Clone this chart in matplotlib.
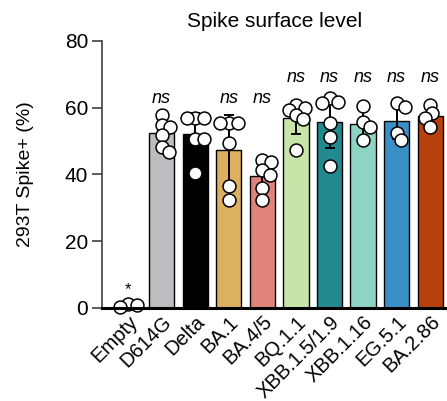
import numpy as np
import matplotlib
matplotlib.use("Agg")
import matplotlib.pyplot as plt

plt.rcParams['font.family'] = ['Liberation Sans', 'DejaVu Sans']

# data
variants = ['Empty', 'D614G', 'Delta', 'BA.1', 'BA.4/5', 'BQ.1.1',
            'XBB.1.5/1.9', 'XBB.1.16', 'EG.5.1', 'BA.2.86']
points = [
    [1.3, 0.8, 0.4],
    [57.8, 54.8, 54.3, 51.8, 48.3, 46.8],
    [56.8, 56.8, 56.8, 50.5, 50.5, 40.5],
    [55.3, 55.3, 55.3, 49.5, 36.5, 32.3],
    [44.3, 43.8, 41.3, 39.8, 35.8, 32.3],
    [60.8, 60.0, 59.3, 57.8, 56.5, 47.3],
    [62.8, 61.8, 61.3, 55.3, 51.3, 42.5],
    [60.5, 55.8, 54.3, 50.3],
    [61.3, 60.3, 52.5, 50.3],
    [60.8, 58.3, 56.8, 54.3],
]
colors = ['#ffffff', '#bdbdbf', '#000000', '#ddb061', '#e0837a', '#c9e4a8',
          '#22898f', '#8dd4c4', '#3a8fc6', '#b8400c']
signif = ['*', 'ns', '', 'ns', 'ns', 'ns', 'ns', 'ns', 'ns', 'ns']

means = [np.mean(p) for p in points]
sds = [np.std(p, ddof=1) for p in points]

fig = plt.figure(figsize=(4.47, 4.01), dpi=100)
ax = fig.add_axes([0.228, 0.232, 0.772, 0.666])

x = np.arange(len(variants))
ax.bar(x, means, width=0.75, color=colors, edgecolor='black', linewidth=1.0, zorder=2)
ax.errorbar(x, means, yerr=sds, fmt='none', ecolor='black', elinewidth=1.4,
            capsize=3.6, capthick=1.4, zorder=3)


def swarm(vals, xpx=33.5, ypx=3.34, d=8.5, step=0.02):
    # greedy beeswarm: place each point as close to the centre as possible
    placed = []
    for v in vals:
        k = 0
        while True:
            off = ((k + 1) // 2) * step * (1 if k % 2 else -1)
            ok = all(np.hypot((off - px) * xpx, (v - py) * ypx) >= d for px, py in placed)
            if ok:
                break
            k += 1
        placed.append((off, v))
    return [p[0] for p in placed]


for i, p in enumerate(points):
    offs = swarm(p)
    ax.plot(i + np.array(offs), p, 'o', ms=9.3, mfc='white', mec='black', mew=1.1,
            zorder=4, clip_on=False)

for i, s in enumerate(signif):
    if not s:
        continue
    if s == '*':
        ax.text(i, 5.5, s, ha='center', va='center', fontsize=12)
    else:
        y = 69 if max(points[i]) > 59 else 62.8
        ax.text(i, y, s, ha='center', va='center', fontsize=13, style='italic')

ax.set_xlim(-0.78, 9.5)
ax.set_ylim(0, 80)
ax.set_yticks([0, 20, 40, 60, 80])
ax.tick_params(axis='y', labelsize=15, length=7, width=1.2, color='#404040', pad=3)
ax.set_xticks(x)
ax.set_xticklabels(variants, rotation=45, ha='right', rotation_mode='anchor', fontsize=14.5)
ax.tick_params(axis='x', length=0, pad=3)
ax.set_ylabel('293T Spike+ (%)', fontsize=14, labelpad=22)
ax.set_title('Spike surface level', fontsize=15, pad=10)

for s in ['top', 'right']:
    ax.spines[s].set_visible(False)
ax.spines['left'].set_color('#404040')
ax.spines['left'].set_linewidth(1.2)
ax.spines['bottom'].set_linewidth(2.2)
ax.spines['bottom'].set_zorder(5)

fig.savefig('out.png', dpi=100)
